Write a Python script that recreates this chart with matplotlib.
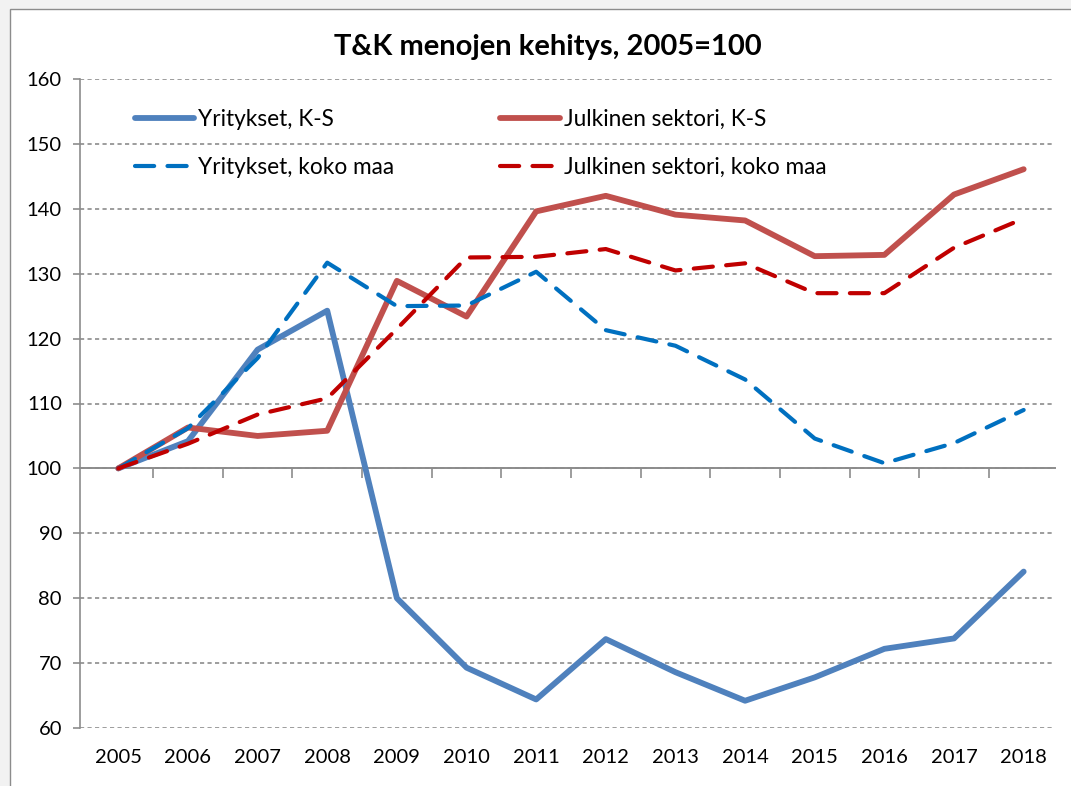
#!/usr/bin/env python3
"""T&K menojen kehitys, 2005=100 -- line chart."""

import matplotlib
matplotlib.use("Agg")
import matplotlib.pyplot as plt
from matplotlib.patches import Rectangle
from matplotlib import transforms

years = list(range(2005, 2019))
yritykset_ks = [100, 104.2, 118.3, 124.3, 80.0, 69.3, 64.4, 73.7, 68.6, 64.2, 67.8, 72.2, 73.8, 84.1]
julkinen_ks = [100, 106.3, 105.0, 105.8, 128.9, 123.4, 139.6, 142.0, 139.1, 138.2, 132.7, 132.9, 142.2, 146.1]
yritykset_maa = [100, 106.2, 117.0, 131.7, 125.0, 125.1, 130.3, 121.3, 118.9, 113.7, 104.6, 100.8, 103.9, 109.0]
julkinen_maa = [100, 103.8, 108.3, 110.8, 121.5, 132.5, 132.6, 133.8, 130.5, 131.6, 127.0, 127.0, 134.0, 138.5]

labels = ["Yritykset, K-S", "Julkinen sektori, K-S", "Yritykset, koko maa", "Julkinen sektori, koko maa"]
y_ticks = list(range(60, 161, 10))

plt.rcParams["font.family"] = ["Lato", "DejaVu Sans"]

fig = plt.figure(figsize=(10.71, 7.86), dpi=100)
fig.patch.set_facecolor("#f2f2f2")
fig.patches.append(Rectangle((10 / 1071, -0.1), 1.2, 1 - 9 / 786 + 0.1, transform=fig.transFigure,
                             facecolor="white", edgecolor="#8c8c8c", linewidth=1.0, zorder=-1))

ax = fig.add_axes([80 / 1071, 1 - 728 / 786, (1055 - 80) / 1071, (728 - 79) / 786])
ax.set_facecolor("none")

grid_color = "#8c8c8c"
for v in y_ticks:
  ax.axhline(v, color=grid_color, linewidth=1.2, linestyle=(0, (2.5, 2)), zorder=1)

dash = (0, (4.6, 3.2))
h0, = ax.plot(years, yritykset_ks, color="#4f81bd", linewidth=4.2, solid_capstyle="round", zorder=3)
h1, = ax.plot(years, julkinen_ks, color="#c0504d", linewidth=4.2, solid_capstyle="round", zorder=3)
h2, = ax.plot(years, yritykset_maa, color="#0070c0", linewidth=3.0, linestyle=dash,
              dash_capstyle="round", zorder=4)
h3, = ax.plot(years, julkinen_maa, color="#c00000", linewidth=3.0, linestyle=dash,
              dash_capstyle="round", zorder=4)

ax.set_xlim(2004.45, 2018.45)
ax.set_ylim(60, 160)
ax.set_yticks(y_ticks)
ax.tick_params(axis="y", colors=grid_color, length=5, width=1.2, labelcolor="black", labelsize=14.5, pad=8)

for side in ("top", "right"):
  ax.spines[side].set_visible(False)
ax.spines["left"].set_color(grid_color)
ax.spines["left"].set_linewidth(1.2)
ax.spines["bottom"].set_position(("data", 100))
ax.spines["bottom"].set_color(grid_color)
ax.spines["bottom"].set_linewidth(1.4)
ax.set_xticks([y + 0.5 for y in years[:-1]])
ax.tick_params(axis="x", colors=grid_color, length=7, width=1.2, labelbottom=False)

trans = transforms.blended_transform_factory(ax.transData, ax.transAxes)
for y in years:
  ax.text(y, -0.045, str(y), transform=trans, ha="center", va="center", fontsize=14.5)

# row-wise order: matplotlib fills legend columns first
ax.legend([h0, h2, h1, h3], [labels[0], labels[2], labels[1], labels[3]], ncol=2, loc="upper left",
          bbox_to_anchor=(0.035, 0.985), frameon=False, fontsize=16.3,
          handlelength=2.65, handletextpad=0.15, columnspacing=4.7, labelspacing=1.2)

fig.text(548 / 1071, 1 - 47 / 786, "T&K menojen kehitys, 2005=100", ha="center", va="center",
         fontsize=21, fontweight="bold")

fig.savefig("out.png", dpi=100)
